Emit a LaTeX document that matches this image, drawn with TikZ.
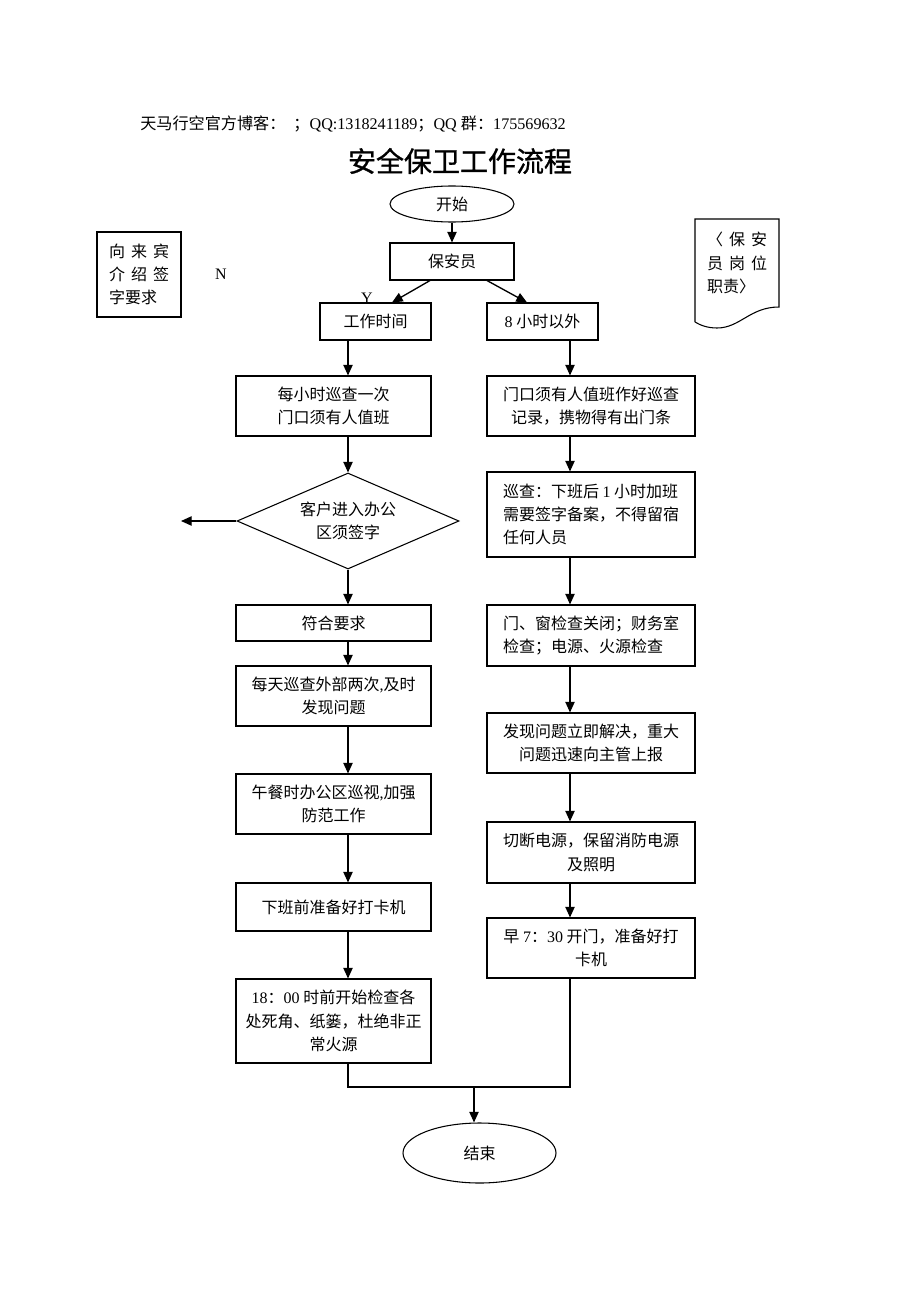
\documentclass[tikz,border=0pt]{standalone}
\usepackage{fontspec}
\setmainfont{Liberation Serif}
\newfontfamily\cjk{Noto Sans CJK SC}
\newfontfamily\cjktitle{Noto Sans CJK SC}[FakeBold=1]
\usetikzlibrary{shapes.geometric,arrows.meta}
\newcommand\lat{\rmfamily}
\begin{document}
\begin{tikzpicture}[x=0.75pt,y=-0.75pt,
  every node/.style={inner sep=0pt},
  txt/.style={font=\cjk\fontsize{12}{17.5}\selectfont},
  box/.style 2 args={draw, line width=0.8pt, minimum width=#1*0.75pt, minimum height=#2*0.75pt, align=center, txt},
  ell/.style 2 args={ellipse, draw, line width=0.8pt, minimum width=#1*0.75pt, minimum height=#2*0.75pt, txt},
  dia/.style={diamond, draw, line width=0.8pt, aspect=2.3, minimum width=222*0.75pt, minimum height=96*0.75pt, align=center, txt},
  arr/.style={-{Triangle[length=8pt,width=7pt]}, line width=1pt},
  ln/.style={line width=1pt}]
\fill[white] (0,0) rectangle (920,1302);
\useasboundingbox (0,0) rectangle (920,1302);

% header and title
\node[anchor=west, font=\fontsize{12.1}{14}\selectfont] (hdr) at (140,124)
  {{\cjk 天马行空官方博客：\hspace{6pt}；}QQ:1318241189{\cjk ；}QQ {\cjk 群：}175569632};
\node[font=\cjktitle\fontsize{21}{25}\selectfont] (title) at (460,161) {安全保卫工作流程};

% main nodes
\node[ell={124}{36}] (start) at (452,204) {开始};
\node[box={124}{37}] (guard) at (452,261.5) {保安员};
\node[box={111}{37}] (work) at (375.5,321.5) {工作时间};
\node[box={111}{37}] (off) at (542.5,321.5) {{\lat 8} 小时以外};

\node[box={195}{60}] (l1) at (333.5,406) {每小时巡查一次\\门口须有人值班};
\node[dia] (dec) at (348,521) {客户进入办公\\区须签字};
\node[box={195}{36}] (l2) at (333.5,623) {符合要求};
\node[box={195}{60}] (l3) at (333.5,696) {每天巡查外部两次{\lat,}及时\\发现问题};
\node[box={195}{60}] (l4) at (333.5,804) {午餐时办公区巡视{\lat,}加强\\防范工作};
\node[box={195}{48}] (l5) at (333.5,907) {下班前准备好打卡机};
\node[box={195}{84}] (l6) at (333.5,1021) {{\lat 18}：{\lat 00} 时前开始检查各\\处死角、纸篓，杜绝非正\\常火源};

\node[box={208}{60}] (r1) at (591,406) {门口须有人值班作好巡查\\记录，携物得有出门条};
\node[box={208}{85}, align=left] (r2) at (591,514.5) {巡查：下班后 {\lat 1} 小时加班\\需要签字备案，不得留宿\\任何人员};
\node[box={208}{61}, align=left] (r3) at (591,635.5) {门、窗检查关闭；财务室\\检查；电源、火源检查};
\node[box={208}{60}] (r4) at (591,743) {发现问题立即解决，重大\\问题迅速向主管上报};
\node[box={208}{61}] (r5) at (591,852.5) {切断电源，保留消防电源\\及照明};
\node[box={208}{60}] (r6) at (591,948) {早 {\lat 7}：{\lat 30} 开门，准备好打\\卡机};

\node[ell={153}{60}] (end) at (479.5,1153) {结束};

% side items
\node[box={84}{85}, align=left] (guest) at (139,274.5)
  {向\hspace{4.5pt}来\hspace{4.5pt}宾\\介\hspace{4.5pt}绍\hspace{4.5pt}签\\字要求};
\node[font=\fontsize{12}{14}\selectfont] (nlab) at (221,274) {N};
\node[font=\fontsize{12}{14}\selectfont] (ylab) at (367,298) {Y};

\draw[line width=0.8pt] (695,322) -- (695,219) -- (779,219) -- (779,307)
  .. controls (750,307) and (740,328) .. (717,328)
  .. controls (707,328) and (700,325) .. (695,322);
\node[txt, align=left, font=\cjk\fontsize{12}{17.6}\selectfont] (duty) at (737,263)
  {〈\hspace{4.5pt}保\hspace{4.5pt}安\\员\hspace{4.5pt}岗\hspace{4.5pt}位\\职责〉};

% connectors
\coordinate (lx) at (348,0);
\coordinate (rx) at (570,0);
\coordinate (dl) at (181,521);
\coordinate (mj) at (474,1087);

\draw[arr] (start.south) -- (guard.north);
\draw[arr] ([xshift=-22*0.75pt]guard.south) -- ([xshift=16.5*0.75pt]work.north);
\draw[arr] ([xshift=35*0.75pt]guard.south) -- ([xshift=-15.5*0.75pt]off.north);

\draw[arr] (work.south -| lx) -- (l1.north -| lx);
\draw[arr] (l1.south -| lx) -- (dec.north);
\draw[arr] (dec.west) -- (dl);
\draw[arr] (dec.south) -- (l2.north -| lx);
\draw[arr] (l2.south -| lx) -- (l3.north -| lx);
\draw[arr] (l3.south -| lx) -- (l4.north -| lx);
\draw[arr] (l4.south -| lx) -- (l5.north -| lx);
\draw[arr] (l5.south -| lx) -- (l6.north -| lx);

\draw[arr] (off.south -| rx) -- (r1.north -| rx);
\draw[arr] (r1.south -| rx) -- (r2.north -| rx);
\draw[arr] (r2.south -| rx) -- (r3.north -| rx);
\draw[arr] (r3.south -| rx) -- (r4.north -| rx);
\draw[arr] (r4.south -| rx) -- (r5.north -| rx);
\draw[arr] (r5.south -| rx) -- (r6.north -| rx);

\draw[ln] (l6.south -| lx) |- (mj) -| (r6.south -| rx);
\draw[arr] (mj) -- (mj |- end.north);
\end{tikzpicture}
\end{document}
